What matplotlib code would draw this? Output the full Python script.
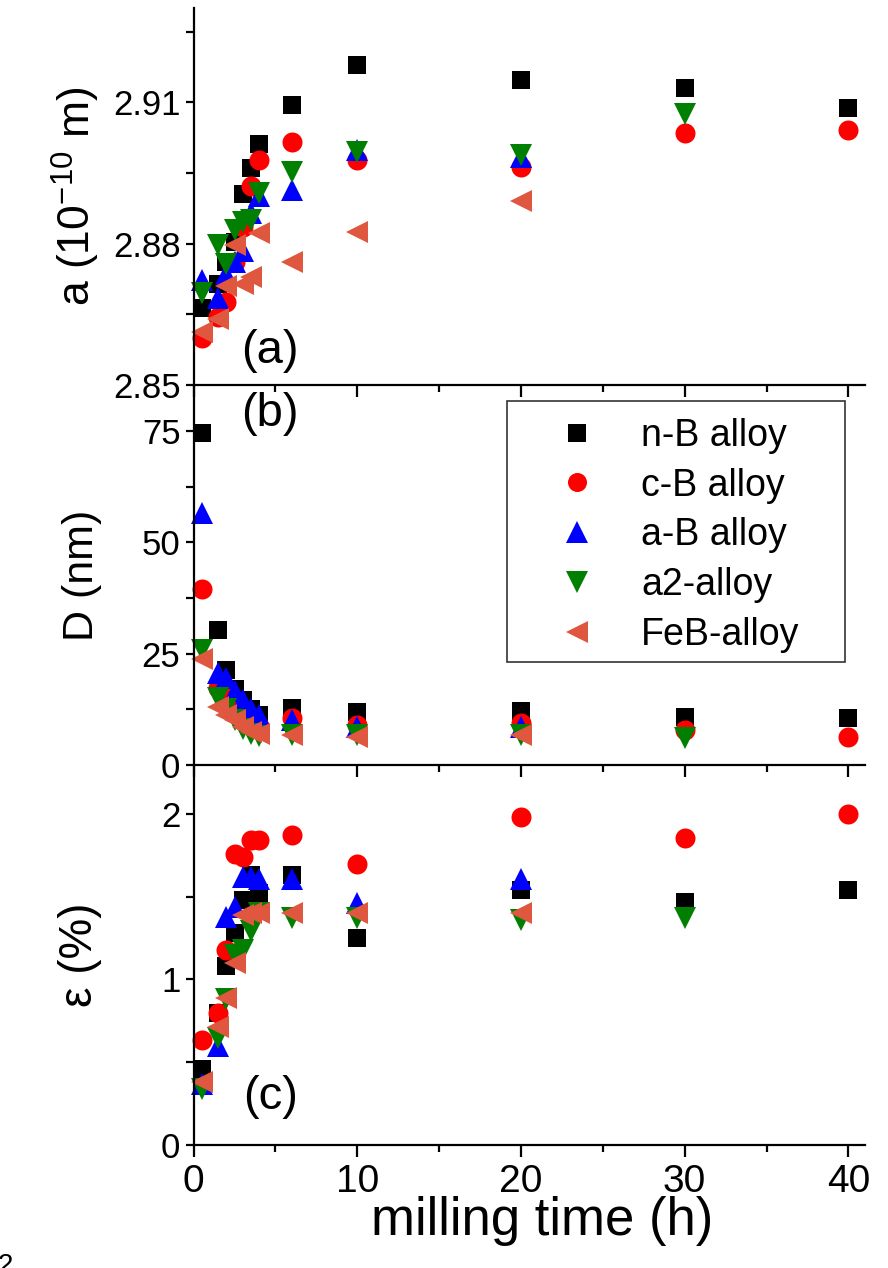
import matplotlib
matplotlib.use("Agg")
import matplotlib.pyplot as plt
from matplotlib.ticker import MultipleLocator
from matplotlib.patches import Rectangle

plt.rcParams['font.family'] = ['Liberation Sans', 'DejaVu Sans']
plt.rcParams['mathtext.default'] = 'regular'

# milling times (h)
t_nb = [0.5, 1.5, 2, 2.5, 3, 3.5, 4, 6, 10, 20, 30, 40]
t_cb = [0.5, 1.5, 2, 2.5, 3, 3.5, 4, 6, 10, 20, 30, 40]
t_ab = [0.5, 1.5, 2, 2.5, 3, 3.5, 4, 6, 10, 20]
t_a2 = [0.5, 1.5, 2, 2.5, 3, 3.5, 4, 6, 10, 20, 30]
t_feb = [0.5, 1.5, 2, 2.5, 3, 3.5, 4, 6, 10, 20]

# lattice parameter a (1e-10 m)
a_nb = [2.8663, 2.8714, 2.8760, 2.8804, 2.8905, 2.8961, 2.9012, 2.9094, 2.9178, 2.9148, 2.9130, 2.9087]
a_cb = [2.8600, 2.8645, 2.8677, 2.8760, 2.8835, 2.8922, 2.8978, 2.9016, 2.8977, 2.8963, 2.9034, 2.9041]
a_ab = [2.8722, 2.8685, 2.8735, 2.8760, 2.8785, 2.8865, 2.8900, 2.8913, 2.8998, 2.8984]
a_a2 = [2.8695, 2.8797, 2.8757, 2.8829, 2.8846, 2.8850, 2.8907, 2.8952, 2.8995, 2.8987, 2.9076]
a_feb = [2.8612, 2.8640, 2.8710, 2.8797, 2.8715, 2.8730, 2.8823, 2.8761, 2.8825, 2.8890]

# crystallite size D (nm)
d_nb = [74.5, 30.3, 21.3, 17.0, 14.6, 12.5, 11.2, 12.8, 11.8, 12.1, 10.8, 10.6]
d_cb = [39.4, 17.3, 15.5, 13.0, 11.0, 9.5, 8.8, 10.5, 9.0, 9.4, 7.8, 6.3]
d_ab = [56.6, 20.6, 19.5, 16.5, 14.5, 12.5, 11.2, 10.1, 8.5, 8.6]
d_a2 = [25.8, 15.0, 12.5, 10.0, 8.0, 7.0, 6.5, 6.8, 6.8, 6.8, 6.1]
d_feb = [23.8, 13.0, 11.2, 10.0, 8.5, 7.5, 7.0, 6.7, 6.3, 6.7]

# microstrain (%)
e_nb = [0.46, 0.80, 1.08, 1.28, 1.48, 1.63, 1.52, 1.63, 1.25, 1.54, 1.47, 1.54]
e_cb = [0.634, 0.80, 1.18, 1.76, 1.74, 1.84, 1.84, 1.87, 1.70, 1.98, 1.855, 2.0]
e_ab = [0.37, 0.60, 1.38, 1.44, 1.62, 1.62, 1.61, 1.61, 1.46, 1.61]
e_a2 = [0.34, 0.646, 0.88, 1.15, 1.18, 1.29, 1.40, 1.37, 1.37, 1.36, 1.37]
e_feb = [0.38, 0.71, 0.89, 1.10, 1.39, 1.40, 1.40, 1.40, 1.40, 1.40]

labels = ['n-B alloy', 'c-B alloy', 'a-B alloy', 'a2-alloy', 'FeB-alloy']
colors = ['black', '#ff0000', '#0000ff', '#007f00', '#e0573f']
markers = ['s', 'o', '^', 'v', '<']
sizes = [13.5, 14.4, 16.5, 16.5, 16.5]

times = [t_nb, t_cb, t_ab, t_a2, t_feb]
a_vals = [a_nb, a_cb, a_ab, a_a2, a_feb]
d_vals = [d_nb, d_cb, d_ab, d_a2, d_feb]
e_vals = [e_nb, e_cb, e_ab, e_a2, e_feb]

fig = plt.figure(figsize=(8.88, 12.68), dpi=100)
left, width = 0.218, 0.7558
ax_a = fig.add_axes([left, 0.6964, width, 0.2973])
ax_b = fig.add_axes([left, 0.3967, width, 0.2997])
ax_c = fig.add_axes([left, 0.0970, width, 0.2997])

for ax, vals in [(ax_a, a_vals), (ax_b, d_vals), (ax_c, e_vals)]:
    for t, v, lab, c, m, s in zip(times, vals, labels, colors, markers, sizes):
        ax.plot(t, v, linestyle='none', marker=m, markersize=s, color=c,
                markeredgewidth=0, label=lab, clip_on=False)
    ax.set_xlim(0, 41)
    ax.xaxis.set_major_locator(MultipleLocator(10))
    ax.xaxis.set_minor_locator(MultipleLocator(5))
    ax.spines['top'].set_visible(False)
    ax.spines['right'].set_visible(False)
    for sp in ['left', 'bottom']:
        ax.spines[sp].set_linewidth(1.6)
    ax.tick_params(axis='x', which='major', direction='out', length=8.5, width=1.6,
                   labelsize=28, pad=5)
    ax.tick_params(axis='x', which='minor', direction='out', length=5, width=1.6)
    ax.tick_params(axis='y', which='both', direction='out', length=5.5, width=1.6,
                   labelsize=25, pad=4)
    ax.set_facecolor('none')

ax_a.set_ylim(2.85, 2.93)
ax_a.yaxis.set_major_locator(MultipleLocator(0.03))
ax_a.yaxis.set_minor_locator(MultipleLocator(0.015))
ax_a.yaxis.set_major_formatter(plt.FormatStrFormatter('%.2f'))
ax_a.set_ylabel('a (10$^{-10}$ m)', fontsize=32)
ax_a.tick_params(axis='x', labelbottom=False)

ax_b.set_ylim(0, 85.3)
ax_b.yaxis.set_major_locator(MultipleLocator(25))
ax_b.yaxis.set_minor_locator(MultipleLocator(12.5))
ax_b.set_ylabel('D (nm)', fontsize=31)
ax_b.tick_params(axis='x', labelbottom=False)

ax_c.set_ylim(0, 2.296)
ax_c.yaxis.set_major_locator(MultipleLocator(1))
ax_c.yaxis.set_minor_locator(MultipleLocator(0.5))
ax_c.set_ylabel('ε (%)', fontsize=33)
ax_c.set_xlabel('milling time (h)', fontsize=38)
ax_c.xaxis.set_label_coords(0.52, -0.135)

for ax in [ax_a, ax_b, ax_c]:
    ax.yaxis.set_label_coords(-0.137, 0.5)

ax_a.text(0.114, 0.09, '(a)', transform=ax_a.transAxes, fontsize=34, ha='center', va='center')
ax_b.text(0.114, 0.924, '(b)', transform=ax_b.transAxes, fontsize=34, ha='center', va='center')
ax_c.text(0.114, 0.127, '(c)', transform=ax_c.transAxes, fontsize=34, ha='center', va='center')

# legend frame drawn separately, Origin style with wide padding
ax_b.add_patch(Rectangle((0.467, 0.271), 0.504, 0.687, transform=ax_b.transAxes,
                         facecolor='white', edgecolor='#333333', linewidth=1.2, zorder=4))
leg = ax_b.legend(loc='upper left', bbox_to_anchor=(0.538, 0.914), borderaxespad=0,
                  fontsize=27, frameon=False, handlelength=1.2, handletextpad=1.1,
                  labelspacing=0.37, borderpad=0, markerscale=0.95)
leg.set_zorder(5)

fig.text(-0.003, -0.004, '2', fontsize=20)

fig.savefig('out.png', dpi=100)
